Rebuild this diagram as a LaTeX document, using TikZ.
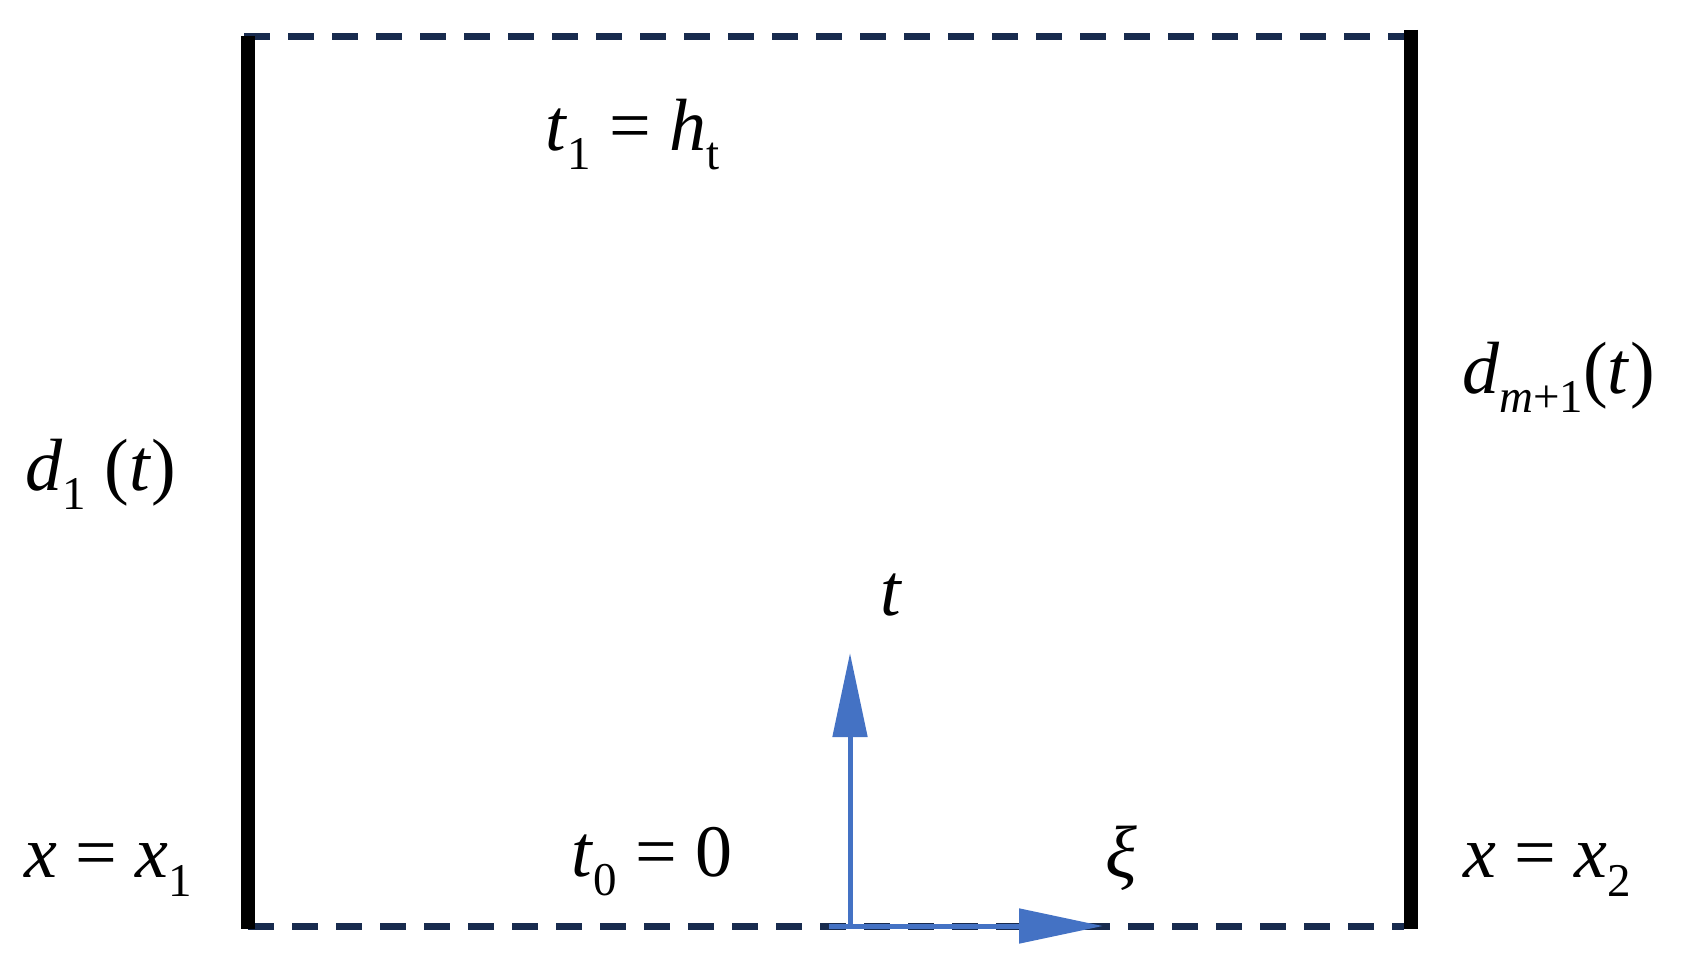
\documentclass[tikz,border=0pt]{standalone}
\usepackage{fontspec}
\setmainfont{Liberation Serif}
\usetikzlibrary{arrows.meta}
\definecolor{navy}{RGB}{24,43,78}
\definecolor{axisblue}{RGB}{68,114,196}
\newcommand\sbs[1]{\raisebox{-0.27em}{\fontsize{47}{47}\selectfont #1}}
\tikzset{
  lbl/.style={inner sep=0pt, anchor=base west, font=\fontsize{74}{80}\selectfont},
  wall/.style={line width=14pt, black},
  openb/.style={line width=7pt, navy, dash pattern=on 26pt off 18pt},
  axis/.style={line width=5pt, axisblue, -{Triangle[length=84pt,width=34pt]}}
}
\begin{document}
\begin{tikzpicture}[x=1pt,y=-1pt]
\useasboundingbox (0,0) rectangle (1689,966);
\coordinate (TL) at (244,36.5);
\coordinate (TR) at (1404,36.5);
\coordinate (BL) at (248,926);
\coordinate (BR) at (1404,926);
\coordinate (LT) at (248,36);
\coordinate (LB) at (248,929);
\coordinate (RT) at (1410.5,30);
\coordinate (RB) at (1410.5,929);
\draw[openb] (TL) -- (TR);
\draw[openb] (BL) -- (BR);
\draw[wall] (LT) -- (LB);
\draw[wall] (RT) -- (RB);
\coordinate (O) at (850,928);
\coordinate (tEnd) at (850,653);
\coordinate (xs) at (829,926);
\coordinate (xe) at (1103,926);
\draw[axis] (O) -- (tEnd);
\draw[axis] (xs) -- (xe);
\node[lbl] (t1) at (545,150) {\textit{t}\sbs{1} = \textit{h}\sbs{t}};
\node[lbl] (d1) at (25,490) {\textit{d}\sbs{1} (\textit{t})};
\node[lbl] (dm) at (1462,393) {\textit{d}\sbs{\textit{m}+1}(\textit{t})};
\node[lbl] (x1) at (24,877) {\textit{x} = \textit{x}\sbs{1}};
\node[lbl] (t0) at (571,876) {\textit{t}\sbs{0} = 0};
\node[lbl] (xi) at (1105,877) {\textit{ξ}};
\node[lbl] (x2) at (1463,877) {\textit{x} = \textit{x}\sbs{2}};
\node[lbl] (tl) at (880,615) {\textit{t}};
\end{tikzpicture}
\end{document}
